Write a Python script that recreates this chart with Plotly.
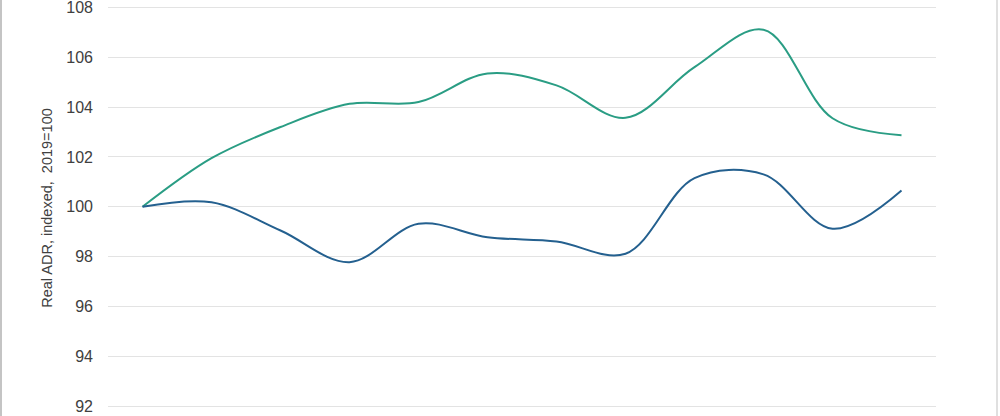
import plotly.graph_objects as go

categories = ["P1", "P2", "P3", "P4", "P5", "P6", "P7", "P8", "P9", "P10", "P11", "P12"]
series_teal = [100.0, 101.95, 103.2, 104.13, 104.2, 105.35, 104.87, 103.57, 105.6, 107.1, 103.55, 102.87]
series_blue = [100.0, 100.18, 99.05, 97.78, 99.32, 98.78, 98.61, 98.12, 101.15, 101.3, 99.12, 100.65]
y_ticks = [92, 94, 96, 98, 100, 102, 104, 106, 108]

fig = go.Figure()
fig.add_trace(go.Scatter(x=categories, y=series_teal, mode="lines",
                         line=dict(color="#2a9d84", width=2, shape="spline", smoothing=1.0),
                         showlegend=False, hoverinfo="skip"))
fig.add_trace(go.Scatter(x=categories, y=series_blue, mode="lines",
                         line=dict(color="#24608f", width=2, shape="spline", smoothing=1.0),
                         showlegend=False, hoverinfo="skip"))

L, R = 108, 64
W = 1000 - L - R

fig.update_layout(
    width=1000, height=416,
    margin=dict(l=L, r=R, t=0, b=0, pad=0),
    paper_bgcolor="white", plot_bgcolor="white",
    font=dict(family="Liberation Sans, Arial, sans-serif", color="#404040"),
    xaxis=dict(type="category", range=[-0.5, 11.5], showgrid=False, zeroline=False,
               showticklabels=False, showline=False, ticks=""),
    yaxis=dict(range=[91.611, 108.293], tickvals=y_ticks, ticktext=[str(v) for v in y_ticks],
               showgrid=True, gridcolor="#e3e3e3", gridwidth=1, zeroline=False, showline=False,
               ticks="", ticklabelstandoff=14, ticklabeloverflow="allow",
               tickfont=dict(size=16, color="#404040"),
               title=dict(text="Real ADR, indexed,  2019=100", font=dict(size=14.5, color="#404040"),
                          standoff=10)),
    shapes=[
        dict(type="line", xref="paper", yref="paper", x0=(1 - L) / W, x1=(1 - L) / W, y0=-0.01, y1=1.01,
             line=dict(color="#c4c4c4", width=2)),
        dict(type="line", xref="paper", yref="paper", x0=(997 - L) / W, x1=(997 - L) / W, y0=-0.01, y1=1.01,
             line=dict(color="#d6d6d6", width=1.5)),
    ],
)

fig.write_html("out.html", config={"displayModeBar": False},
               post_script="document.body.style.margin='0';document.body.style.overflow='hidden';")
